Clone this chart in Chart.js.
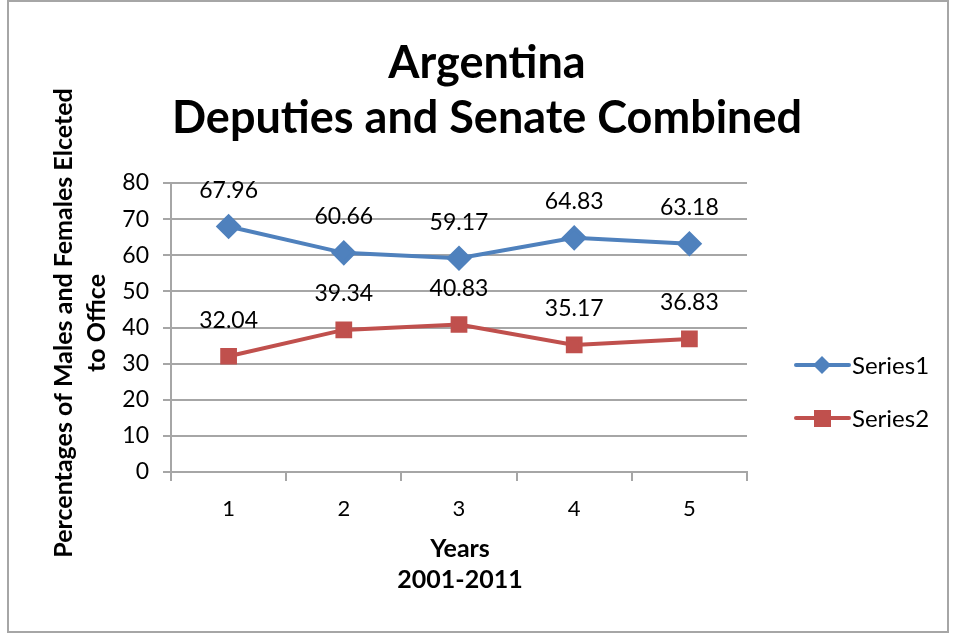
<!DOCTYPE html>
<html lang="en">
<head>
  <meta charset="UTF-8">
  <title>Argentina - Deputies and Senate Combined</title>
  <script src="https://cdn.jsdelivr.net/npm/chart.js"></script>
  <style>
    html, body { margin: 0; padding: 0; background: #fff; }
    #wrap { width: 956px; height: 635px; position: relative; }
  </style>
</head>
<body>
  <div id="wrap"><canvas id="chart"></canvas></div>

  <script>
    const years = ['1', '2', '3', '4', '5'];
    const series1 = [67.96, 60.66, 59.17, 64.83, 63.18];
    const series2 = [32.04, 39.34, 40.83, 35.17, 36.83];
    const yTicks = [0, 10, 20, 30, 40, 50, 60, 70, 80];

    const FONT = 'Lato, "Open Sans", sans-serif';
    const blue = '#4F81BD';
    const red = '#C0504D';

    // frame, titles, value labels and legend
    const extras = {
      id: 'extras',
      beforeDraw(chart) {
        const ctx = chart.ctx;
        ctx.save();
        ctx.fillStyle = '#fff';
        ctx.fillRect(0, 0, chart.width, chart.height);
        ctx.strokeStyle = '#a6a6a6';
        ctx.lineWidth = 2;
        ctx.strokeRect(8, 1, 940, 631);
        ctx.restore();
      },
      afterDraw(chart) {
        const ctx = chart.ctx;
        ctx.save();
        ctx.fillStyle = '#000';
        ctx.textAlign = 'center';
        ctx.textBaseline = 'middle';

        ctx.font = 'bold 45px ' + FONT;
        ctx.fillText('Argentina', 487, 63);
        ctx.fillText('Deputies and Senate Combined', 487, 118);

        ctx.font = 'bold 25px ' + FONT;
        ctx.fillText('Years', 460, 549);
        ctx.fillText('2001-2011', 460, 580);

        ctx.save();
        ctx.translate(64, 323);
        ctx.rotate(-Math.PI / 2);
        ctx.fillText('Percentages of Males and Females Elceted', 0, 0);
        ctx.fillText('to Office', 0, 33);
        ctx.restore();

        // value labels above points
        ctx.font = '23px ' + FONT;
        chart.data.datasets.forEach((ds, i) => {
          chart.getDatasetMeta(i).data.forEach((pt, j) => {
            ctx.fillText(ds.data[j].toFixed(2), pt.x, pt.y - 36);
          });
        });

        // legend
        ctx.textAlign = 'left';
        ctx.font = '24px ' + FONT;
        const items = [
          { label: 'Series1', color: blue, y: 365, style: 'diamond' },
          { label: 'Series2', color: red, y: 418, style: 'square' }
        ];
        items.forEach(it => {
          ctx.strokeStyle = it.color;
          ctx.fillStyle = it.color;
          ctx.lineWidth = 4;
          ctx.lineCap = 'round';
          ctx.beginPath();
          ctx.moveTo(796, it.y);
          ctx.lineTo(849, it.y);
          ctx.stroke();
          ctx.beginPath();
          if (it.style === 'diamond') {
            ctx.moveTo(822, it.y - 9);
            ctx.lineTo(831, it.y);
            ctx.lineTo(822, it.y + 9);
            ctx.lineTo(813, it.y);
            ctx.closePath();
          } else {
            ctx.rect(814, it.y - 8, 17, 17);
          }
          ctx.fill();
          ctx.fillStyle = '#000';
          ctx.fillText(it.label, 852, it.y + 1);
        });
        ctx.restore();
      }
    };

    new Chart(document.getElementById('chart'), {
      type: 'line',
      data: {
        labels: years,
        datasets: [
          {
            label: 'Series1',
            data: series1,
            borderColor: blue,
            backgroundColor: blue,
            borderWidth: 4,
            pointStyle: 'rectRot',
            pointRadius: 10,
            pointHoverRadius: 10,
            tension: 0
          },
          {
            label: 'Series2',
            data: series2,
            borderColor: red,
            backgroundColor: red,
            borderWidth: 4,
            pointStyle: 'rect',
            pointRadius: 9,
            pointHoverRadius: 9,
            tension: 0
          }
        ]
      },
      options: {
        responsive: true,
        maintainAspectRatio: false,
        animation: false,
        events: [],
        layout: { padding: { left: 0, top: 183, right: 209, bottom: 103 } },
        plugins: {
          legend: { display: false },
          title: { display: false },
          tooltip: { enabled: false }
        },
        scales: {
          x: {
            offset: true,
            grid: {
              display: true,
              offset: true,
              drawOnChartArea: false,
              color: '#a6a6a6',
              lineWidth: 2,
              tickLength: 9
            },
            border: { color: '#a6a6a6', width: 2 },
            ticks: { color: '#000', font: { family: FONT, size: 22 }, padding: 15 },
            afterFit(scale) { scale.height = 60; }
          },
          y: {
            min: 0,
            max: 80,
            afterBuildTicks(scale) { scale.ticks = yTicks.map(v => ({ value: v })); },
            grid: { color: '#a6a6a6', lineWidth: 2, tickLength: 8 },
            border: { color: '#a6a6a6', width: 2 },
            ticks: { color: '#000', font: { family: FONT, size: 23 }, padding: 14 },
            afterFit(scale) { scale.width = 171; }
          }
        }
      },
      plugins: [extras]
    });
  </script>
</body>
</html>
